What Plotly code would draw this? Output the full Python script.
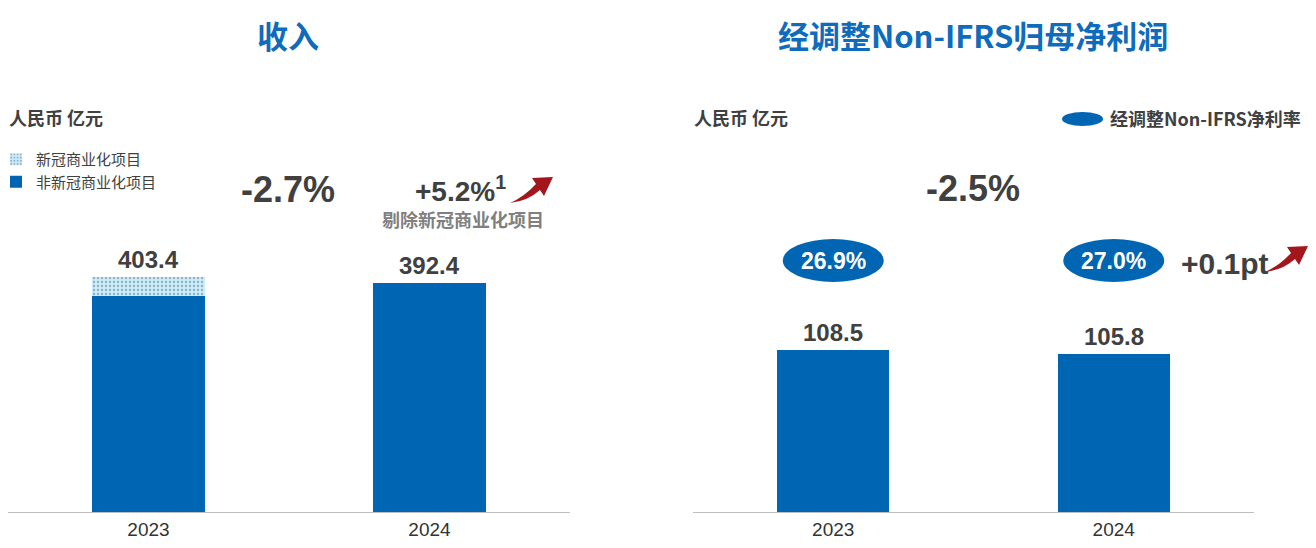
import plotly.graph_objects as go

# page body has an 8px margin, so the figure is drawn 8px right/down
OFF = 8
W, H = 1300, 532

# ---- data ----
years = ["2023", "2024"]
revenue_non_covid = [370.4, 392.4]
revenue_covid = [33.0, None]
revenue_total = [403.4, 392.4]
profit = [108.5, 105.8]
margin_labels = ["26.9%", "27.0%"]
revenue_change = "-2.7%"
revenue_change_ex = "+5.2%<sup>1</sup>"
profit_change = "-2.5%"
margin_change = "+0.1pt"

BLUE = "#0066b3"
TITLE_BLUE = "#0f6bbb"
DARK = "#404040"
GRAY = "#808080"
RED = "#a3161b"
NUM = "Liberation Sans, Arial, sans-serif"
CJK = "Noto Sans CJK SC, sans-serif"


def px(x):
    return (x - OFF) / W


def py(y):
    return 1 - (y - OFF) / H


fig = go.Figure()
fig.add_trace(go.Bar(
    x=years, y=revenue_non_covid, name="非新冠商业化项目", width=0.4,
    marker=dict(color=BLUE, line_width=0), xaxis="x", yaxis="y"))
fig.add_trace(go.Bar(
    x=years, y=revenue_covid, name="新冠商业化项目", width=0.4,
    marker=dict(color="#c9ecfb", line_width=0,
                pattern=dict(shape=".", fgcolor="#5a6a74", bgcolor="#c9ecfb",
                             size=4, solidity=0.25, fillmode="overlay")),
    xaxis="x", yaxis="y"))
fig.add_trace(go.Bar(
    x=years, y=profit, showlegend=False, width=0.4,
    marker=dict(color=BLUE, line_width=0), xaxis="x2", yaxis="y2"))

xcommon = dict(type="category", range=[-0.5, 1.5], showline=True, linecolor="#bfbfbf",
               linewidth=1, ticks="", showgrid=False, zeroline=False, ticklabelstandoff=0,
               tickfont=dict(family=NUM, size=19, color="#333333"))
ydom = [1 - (512 - OFF) / H, 1]
ycommon = dict(visible=False, domain=ydom, showgrid=False, zeroline=False)

fig.update_layout(
    width=W, height=H, margin=dict(l=0, r=0, t=0, b=0, autoexpand=False),
    paper_bgcolor="white", plot_bgcolor="white",
    barmode="stack",
    xaxis=dict(domain=[px(8), px(570)], anchor="y", **xcommon),
    yaxis=dict(range=[0, 865], **ycommon),
    xaxis2=dict(domain=[px(693), px(1254)], anchor="y2", **xcommon),
    yaxis2=dict(range=[0, 337.5], **ycommon),
    legend=dict(x=px(-4), y=py(143), xanchor="left", yanchor="top",
                traceorder="reversed", bgcolor="rgba(0,0,0,0)",
                font=dict(family=CJK, size=15, color=DARK), tracegroupgap=0),
    showlegend=True,
)

ann = []


def text(x, y, t, size, color=DARK, family=NUM, xanchor="center",
         xref="paper", yref="paper", yanchor="middle", yshift=0):
    ann.append(dict(x=x, y=y, xref=xref, yref=yref, text=t, showarrow=False,
                    xanchor=xanchor, yanchor=yanchor, yshift=yshift,
                    font=dict(family=family, size=size, color=color, weight="bold")))


# titles
text(px(288), py(34), "收入", 31, TITLE_BLUE, CJK)
text(px(973), py(34), "经调整Non-IFRS归母净利润", 31, TITLE_BLUE, CJK)
# units
text(px(7), py(117), "人民币 亿元", 18, DARK, CJK, xanchor="left")
text(px(692), py(117), "人民币 亿元", 18, DARK, CJK, xanchor="left")
# right legend
text(px(1108), py(118), "经调整Non-IFRS净利率", 18, DARK, CJK, xanchor="left")

# change labels
text(px(288), py(189), revenue_change, 36)
text(px(460), py(189), revenue_change_ex, 28)
text(px(463), py(219), "剔除新冠商业化项目", 18, GRAY, CJK)
text(px(973), py(188), profit_change, 36)
text(px(1225), py(263), margin_change, 30)

# value labels
for i in range(len(years)):
    text(i, revenue_total[i], f"{revenue_total[i]:.1f}", 24, xref="x", yref="y",
         yanchor="bottom", yshift=2)
    text(i, profit[i], f"{profit[i]:.1f}", 24, xref="x2", yref="y2",
         yanchor="bottom", yshift=2)
    text(i, py(261), margin_labels[i], 23, "white", xref="x2")

fig.update_layout(annotations=ann)

shapes = []
# margin ellipses
for i in range(len(years)):
    shapes.append(dict(type="circle", xref="x2", yref="paper", x0=i - 0.18, x1=i + 0.18,
                       y0=py(282), y1=py(239), fillcolor=BLUE, line_width=0, layer="below"))
# legend ellipse
shapes.append(dict(type="circle", xref="paper", yref="paper", x0=px(1062), x1=px(1103),
                   y0=py(126), y1=py(112), fillcolor=BLUE, line_width=0))


def arrow(ox, oy):
    pts = {
        "tail": (510, 203), "c1": (528, 201), "nl": (540, 190), "bl": (544, 196),
        "tip": (553, 177), "bu": (532, 178), "nu": (536, 184), "c2": (524, 197),
    }
    p = {k: (px(v[0] + ox), py(v[1] + oy)) for k, v in pts.items()}
    f = lambda k: f"{p[k][0]:.5f},{p[k][1]:.5f}"
    return (f"M {f('tail')} Q {f('c1')} {f('nl')} L {f('bl')} L {f('tip')} "
            f"L {f('bu')} L {f('nu')} Q {f('c2')} {f('tail')} Z")


for ox, oy in [(0, 0), (755, 69)]:
    shapes.append(dict(type="path", xref="paper", yref="paper", path=arrow(ox, oy),
                       fillcolor=RED, line_width=0))

fig.update_layout(shapes=shapes)

fig.write_html("out.html")
